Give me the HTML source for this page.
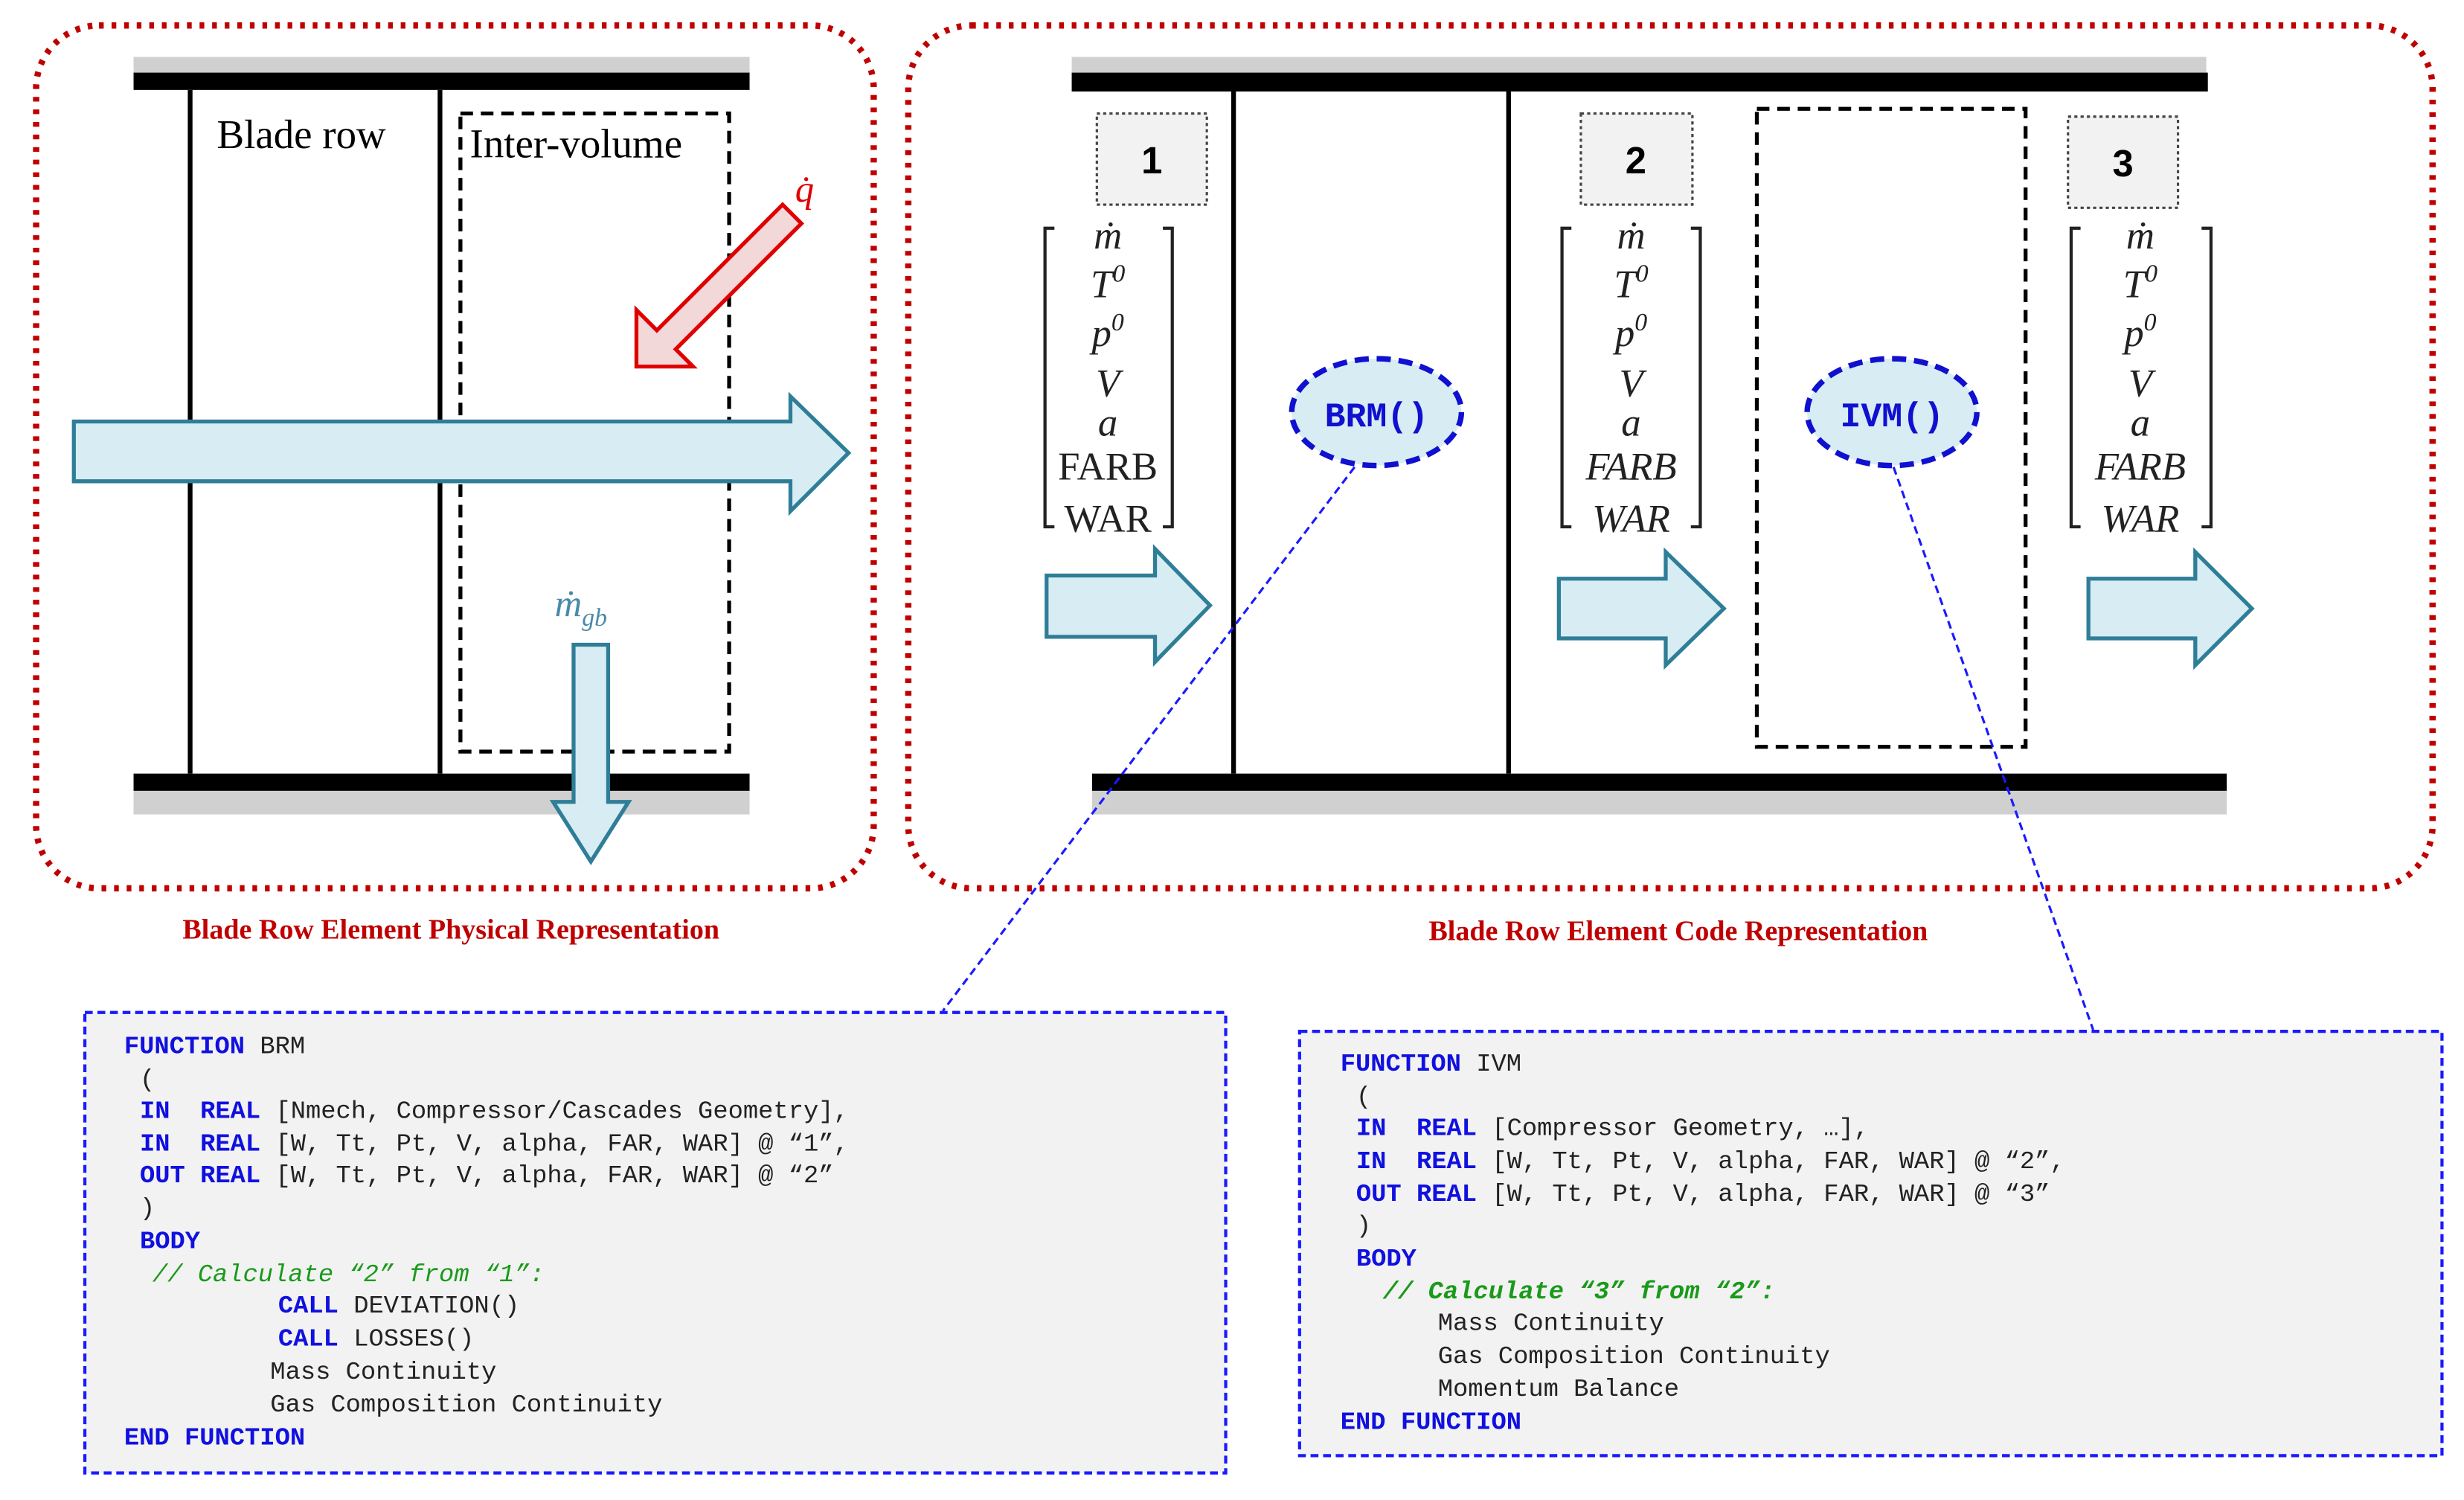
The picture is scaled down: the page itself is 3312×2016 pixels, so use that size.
<!DOCTYPE html>
<html><head><meta charset="utf-8"><style>html,body{margin:0;padding:0;background:#fff}svg{display:block}</style></head>
<body>
<svg width="3312" height="2016" viewBox="0 0 1568 954" xmlns="http://www.w3.org/2000/svg">
<rect width="1568" height="954" fill="#fff"/>
<!-- red dotted frames -->
<rect x="23" y="16" width="533" height="549" rx="40" fill="none" stroke="#c00000" stroke-width="4" stroke-dasharray="3 5"/>
<rect x="578" y="16" width="970" height="549" rx="40" fill="none" stroke="#c00000" stroke-width="4" stroke-dasharray="3 5"/>

<!-- LEFT physical -->
<rect x="85" y="36" width="392" height="11" fill="#d0d0d0"/>
<rect x="85" y="46" width="392" height="11" fill="#000"/>
<rect x="85" y="492" width="392" height="11" fill="#000"/>
<rect x="85" y="503" width="392" height="15" fill="#d0d0d0"/>
<line x1="121" y1="57" x2="121" y2="492" stroke="#000" stroke-width="3"/>
<line x1="280" y1="57" x2="280" y2="492" stroke="#000" stroke-width="3"/>
<text x="138" y="94" font-family="Liberation Serif, serif" font-size="26">Blade row</text>
<rect x="293" y="72" width="171" height="406" fill="none" stroke="#000" stroke-width="2.5" stroke-dasharray="8 5"/>
<text x="299" y="100" font-family="Liberation Serif, serif" font-size="26">Inter-volume</text>
<!-- red arrow -->
<polygon points="405,233 405,197 418,210 498,130 510,142 430,222 441,233" fill="#f2d8d8" stroke="#e00000" stroke-width="2.5"/>
<text x="506" y="128" font-family="Liberation Serif, serif" font-style="italic" font-size="24" fill="#e00000">q̇</text>
<!-- horizontal arrow -->
<polygon points="47,268 503,268 503,252 540,288 503,325 503,306 47,306" fill="#d8ecf3" stroke="#2f7e98" stroke-width="2.5"/>
<text x="353" y="392" font-family="Liberation Serif, serif" font-style="italic" font-size="24" fill="#4a8aa8">ṁ<tspan font-size="16" dy="6">gb</tspan></text>
<polygon points="365,410 387,410 387,510 400,510 376,548 352,510 365,510" fill="#d8ecf3" stroke="#2f7e98" stroke-width="2.5"/>
<text x="287" y="597" text-anchor="middle" font-family="Liberation Serif, serif" font-weight="bold" font-size="18" fill="#c00000">Blade Row Element Physical Representation</text>

<!-- RIGHT code representation -->
<rect x="682" y="36" width="722" height="11" fill="#d0d0d0"/>
<rect x="682" y="46" width="723" height="12" fill="#000"/>
<rect x="695" y="492" width="722" height="11" fill="#000"/>
<rect x="695" y="503" width="722" height="15" fill="#d0d0d0"/>
<line x1="785" y1="58" x2="785" y2="492" stroke="#000" stroke-width="3"/>
<line x1="960" y1="58" x2="960" y2="492" stroke="#000" stroke-width="3"/>
<rect x="1118" y="69" width="171" height="406" fill="none" stroke="#000" stroke-width="2.5" stroke-dasharray="8 5"/>

<g font-family="Liberation Sans, sans-serif" font-weight="bold" font-size="24" text-anchor="middle">
<rect x="698" y="72" width="70" height="58" fill="#f2f2f2" stroke="#444" stroke-width="1.5" stroke-dasharray="2 2"/>
<text x="733" y="110">1</text>
<rect x="1006" y="72" width="71" height="58" fill="#f2f2f2" stroke="#444" stroke-width="1.5" stroke-dasharray="2 2"/>
<text x="1041" y="110">2</text>
<rect x="1316" y="74" width="70" height="58" fill="#f2f2f2" stroke="#444" stroke-width="1.5" stroke-dasharray="2 2"/>
<text x="1351" y="112">3</text>
</g>

<!-- vectors -->
<g font-family="Liberation Serif, serif" font-size="25" text-anchor="middle" fill="#222">
<g transform="translate(705,0)">
<text y="158" font-style="italic">ṁ</text><text y="189" font-style="italic">T<tspan font-size="16" dy="-10">0</tspan></text><text y="220" font-style="italic">p<tspan font-size="16" dy="-10">0</tspan></text><text y="252" font-style="italic">V</text><text y="277" font-style="italic">a</text><text y="305">FARB</text><text y="338">WAR</text>
</g>
<g transform="translate(1038,0)">
<text y="158" font-style="italic">ṁ</text><text y="189" font-style="italic">T<tspan font-size="16" dy="-10">0</tspan></text><text y="220" font-style="italic">p<tspan font-size="16" dy="-10">0</tspan></text><text y="252" font-style="italic">V</text><text y="277" font-style="italic">a</text><text y="305" font-style="italic">FARB</text><text y="338" font-style="italic">WAR</text>
</g>
<g transform="translate(1362,0)">
<text y="158" font-style="italic">ṁ</text><text y="189" font-style="italic">T<tspan font-size="16" dy="-10">0</tspan></text><text y="220" font-style="italic">p<tspan font-size="16" dy="-10">0</tspan></text><text y="252" font-style="italic">V</text><text y="277" font-style="italic">a</text><text y="305" font-style="italic">FARB</text><text y="338" font-style="italic">WAR</text>
</g>
</g>
<g fill="none" stroke="#222" stroke-width="2">
<polyline points="671,145 665,145 665,335 671,335"/><polyline points="740,145 746,145 746,335 740,335"/>
<polyline points="1000,145 994,145 994,335 1000,335"/><polyline points="1076,145 1082,145 1082,335 1076,335"/>
<polyline points="1324,145 1318,145 1318,335 1324,335"/><polyline points="1401,145 1407,145 1407,335 1401,335"/>
</g>

<!-- small arrows -->
<g fill="#d8ecf3" stroke="#2f7e98" stroke-width="2.5">
<polygon points="666,366 735,366 735,349 770,385 735,421 735,405 666,405"/>
<polygon points="992,368 1060,368 1060,351 1097,387 1060,423 1060,406 992,406"/>
<polygon points="1329,368 1397,368 1397,351 1433,387 1397,423 1397,406 1329,406"/>
</g>

<!-- connector lines -->
<line x1="862" y1="297" x2="600" y2="643" stroke="#1a1aff" stroke-width="1.5" stroke-dasharray="5 3"/>
<line x1="1205" y1="297" x2="1332" y2="655" stroke="#1a1aff" stroke-width="1.5" stroke-dasharray="5 3"/>

<!-- ellipses -->
<ellipse cx="876" cy="262" rx="54" ry="34" fill="#d8ecf3" stroke="#1010d0" stroke-width="3.5" stroke-dasharray="9 5"/>
<text x="876" y="271" text-anchor="middle" font-family="Liberation Mono, monospace" font-weight="bold" font-size="22" fill="#1010d0">BRM()</text>
<ellipse cx="1204" cy="262" rx="54" ry="34" fill="#d8ecf3" stroke="#1010d0" stroke-width="3.5" stroke-dasharray="9 5"/>
<text x="1204" y="271" text-anchor="middle" font-family="Liberation Mono, monospace" font-weight="bold" font-size="22" fill="#1010d0">IVM()</text>

<text x="1068" y="598" text-anchor="middle" font-family="Liberation Serif, serif" font-weight="bold" font-size="18" fill="#c00000">Blade Row Element Code Representation</text>

<!-- code boxes -->
<rect x="54" y="644" width="726" height="293" fill="#f2f2f2" stroke="#1a1aff" stroke-width="2" stroke-dasharray="5 3"/>
<rect x="827" y="656" width="727" height="270" fill="#f2f2f2" stroke="#1a1aff" stroke-width="2" stroke-dasharray="5 3"/>

<g font-family="Liberation Mono, monospace" font-size="16" fill="#222">
<text x="79" y="670"><tspan fill="#1010e0" font-weight="bold">FUNCTION</tspan> BRM</text>
<text x="89" y="691">(</text>
<text x="89" y="711"><tspan fill="#1010e0" font-weight="bold">IN&#160;&#160;REAL</tspan> [Nmech, Compressor/Cascades Geometry],</text>
<text x="89" y="732"><tspan fill="#1010e0" font-weight="bold">IN&#160;&#160;REAL</tspan> [W, Tt, Pt, V, alpha, FAR, WAR] @ “1”,</text>
<text x="89" y="752"><tspan fill="#1010e0" font-weight="bold">OUT REAL</tspan> [W, Tt, Pt, V, alpha, FAR, WAR] @ “2”</text>
<text x="89" y="773">)</text>
<text x="89" y="794" fill="#1010e0" font-weight="bold">BODY</text>
<text x="97" y="815" fill="#1a9a1a" font-style="italic">// Calculate “2” from “1”:</text>
<text x="177" y="835"><tspan fill="#1010e0" font-weight="bold">CALL</tspan> DEVIATION()</text>
<text x="177" y="856"><tspan fill="#1010e0" font-weight="bold">CALL</tspan> LOSSES()</text>
<text x="172" y="877">Mass Continuity</text>
<text x="172" y="898">Gas Composition Continuity</text>
<text x="79" y="919" fill="#1010e0" font-weight="bold">END FUNCTION</text>

<text x="853" y="681"><tspan fill="#1010e0" font-weight="bold">FUNCTION</tspan> IVM</text>
<text x="863" y="702">(</text>
<text x="863" y="722"><tspan fill="#1010e0" font-weight="bold">IN&#160;&#160;REAL</tspan> [Compressor Geometry, …],</text>
<text x="863" y="743"><tspan fill="#1010e0" font-weight="bold">IN&#160;&#160;REAL</tspan> [W, Tt, Pt, V, alpha, FAR, WAR] @ “2”,</text>
<text x="863" y="764"><tspan fill="#1010e0" font-weight="bold">OUT REAL</tspan> [W, Tt, Pt, V, alpha, FAR, WAR] @ “3”</text>
<text x="863" y="784">)</text>
<text x="863" y="805" fill="#1010e0" font-weight="bold">BODY</text>
<text x="880" y="826" fill="#1a9a1a" font-style="italic" font-weight="bold">// Calculate “3” from “2”:</text>
<text x="915" y="846">Mass Continuity</text>
<text x="915" y="867">Gas Composition Continuity</text>
<text x="915" y="888">Momentum Balance</text>
<text x="853" y="909" fill="#1010e0" font-weight="bold">END FUNCTION</text>
</g>
</svg>
</body></html>
